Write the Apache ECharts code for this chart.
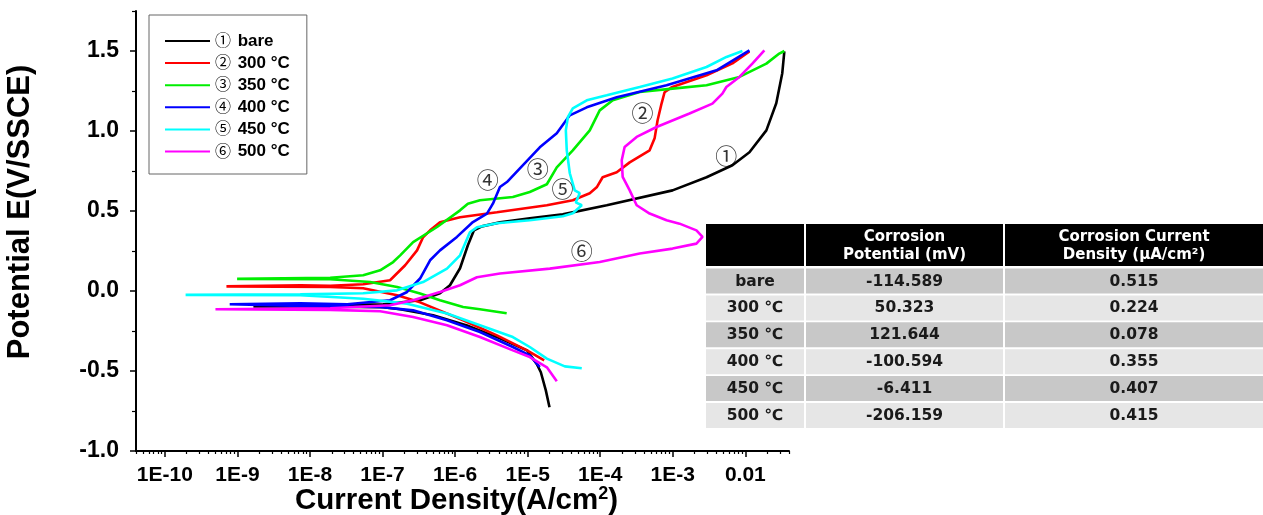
<!DOCTYPE html>
<html>
<head>
<meta charset="utf-8">
<script src="https://cdn.jsdelivr.net/npm/echarts@6/dist/echarts.min.js"></script>
<style>
html,body{margin:0;padding:0;background:#fff;}
#main{width:1263px;height:515px;}
</style>
</head>
<body>
<div id="main"></div>
<script>
// legend / series labels
var marks = ['①', '②', '③', '④', '⑤', '⑥'];
var names = ['bare', '300 °C', '350 °C', '400 °C', '450 °C', '500 °C'];
var colors = ['#000000', '#ff0000', '#00ee00', '#0000ff', '#00ffff', '#ff00ff'];

// [current density (A/cm2), potential (V)] : cathodic end -> Ecorr -> anodic end
var bare = [[2.0e-5,-0.727],[1.78e-5,-0.621],[1.52e-5,-0.508],[1.34e-5,-0.458],[9.8e-6,-0.371],[4.15e-6,-0.296],[1.46e-6,-0.215],[4.97e-7,-0.152],[1.75e-7,-0.114],[1.02e-7,-0.102],[1.38e-8,-0.096],[1.66e-9,-0.096],
  [1.66e-9,-0.093],[1.38e-8,-0.089],[1.02e-7,-0.083],[3.29e-7,-0.058],[6.19e-7,-0.014],[8.5e-7,0.036],[1.17e-6,0.142],[1.5e-6,0.286],[1.82e-6,0.379],[2.34e-6,0.404],[4.15e-6,0.429],[1.07e-5,0.454],[3.05e-5,0.479],[1.23e-4,0.536],[9.93e-4,0.629],[2.92e-3,0.711],[6.64e-3,0.786],[1.14e-2,0.867],[1.95e-2,1.004],[2.67e-2,1.173],[3.23e-2,1.361],[3.45e-2,1.498]];
var t300 = [[1.69e-5,-0.433],[9.8e-6,-0.371],[3.77e-6,-0.277],[1.29e-6,-0.183],[3.29e-7,-0.071],[1.59e-7,-0.027],[5.41e-8,0.017],[1.9e-8,0.026],[7.06e-10,0.029],
  [7.06e-10,0.033],[7.4e-9,0.036],[1.9e-8,0.033],[5.41e-8,0.042],[1.27e-7,0.067],[2.05e-7,0.161],[2.99e-7,0.254],[3.62e-7,0.336],[4.52e-7,0.379],[6.19e-7,0.429],[1.17e-6,0.461],[3.77e-6,0.492],[1.84e-5,0.536],[4.19e-5,0.567],[7.18e-5,0.611],[8.95e-5,0.648],[1.08e-4,0.711],[1.69e-4,0.742],[2.55e-4,0.804],[4.8e-4,0.879],[5.62e-4,0.954],[6.18e-4,1.067],[7.02e-4,1.173],[7.71e-4,1.242],[9.63e-4,1.273],[2.92e-3,1.348],[6.64e-3,1.423],[1.14e-2,1.498]];
var t350 = [[5.14e-6,-0.139],[2.2e-6,-0.114],[1.29e-6,-0.1],[6.19e-7,-0.058],[3.29e-7,-0.016],[1.59e-7,0.025],[6.75e-8,0.056],[1.9e-8,0.073],[9.9e-10,0.076],
  [9.9e-10,0.079],[1.9e-8,0.083],[5.41e-8,0.098],[9.27e-8,0.129],[1.4e-7,0.181],[1.75e-7,0.223],[2.64e-7,0.306],[5.64e-7,0.4],[1.17e-6,0.504],[1.5e-6,0.546],[2.2e-6,0.567],[6.25e-6,0.588],[1.07e-5,0.619],[1.84e-5,0.667],[2.52e-5,0.773],[4.19e-5,0.879],[7.18e-5,1.004],[9.84e-5,1.129],[1.49e-4,1.192],[3.5e-4,1.244],[9.93e-4,1.265],[2.92e-3,1.286],[8.3e-3,1.338],[1.95e-2,1.421],[2.94e-2,1.484],[3.45e-2,1.5]];
var t400 = [[1.47e-5,-0.475],[1.07e-5,-0.402],[6.25e-6,-0.35],[2.2e-6,-0.256],[7.73e-7,-0.183],[2.64e-7,-0.121],[9.27e-8,-0.1],[7.36e-9,-0.093],[7.83e-10,-0.083],
  [7.83e-10,-0.079],[7.36e-9,-0.077],[3.26e-8,-0.083],[1.27e-7,-0.058],[2.18e-7,-0.006],[3.29e-7,0.078],[4.52e-7,0.192],[6.19e-7,0.254],[1.06e-6,0.338],[1.76e-6,0.431],[2.75e-6,0.484],[3.32e-6,0.546],[4.15e-6,0.65],[5.18e-6,0.681],[7.82e-6,0.767],[1.47e-5,0.898],[2.52e-5,0.986],[3.81e-5,1.098],[6.53e-5,1.148],[1.69e-4,1.211],[8.22e-4,1.286],[4.01e-3,1.379],[1.14e-2,1.504]];
var t450 = [[5.57e-5,-0.483],[3.25e-5,-0.471],[1.84e-5,-0.423],[1.07e-5,-0.35],[6.25e-6,-0.288],[2.2e-6,-0.214],[7.73e-7,-0.141],[2.18e-7,-0.079],[5.41e-8,-0.048],[7.36e-9,-0.027],[1.93e-10,-0.024],
  [1.93e-10,-0.021],[7.36e-9,-0.021],[5.41e-8,-0.014],[1.59e-7,0.004],[3.62e-7,0.056],[7.73e-7,0.14],[1.17e-6,0.223],[1.6e-6,0.367],[2.0e-6,0.398],[3.77e-6,0.423],[1.07e-5,0.442],[3.05e-5,0.467],[4.19e-5,0.486],[5.57e-5,0.536],[4.6e-5,0.554],[5.22e-5,0.611],[4.46e-5,0.629],[3.81e-5,0.736],[3.46e-5,0.879],[3.36e-5,1.004],[3.58e-5,1.086],[4.19e-5,1.142],[6.53e-5,1.192],[1.23e-4,1.223],[3.5e-4,1.275],[9.93e-4,1.328],[2.92e-3,1.4],[5.5e-3,1.463],[9.12e-3,1.5]];
var t500 = [[2.52e-5,-0.564],[1.84e-5,-0.477],[1.07e-5,-0.413],[6.25e-6,-0.371],[2.2e-6,-0.288],[7.73e-7,-0.214],[2.64e-7,-0.163],[9.27e-8,-0.127],[1.9e-8,-0.118],[4.98e-10,-0.114],
  [4.98e-10,-0.111],[1.9e-8,-0.108],[1.27e-7,-0.089],[2.64e-7,-0.058],[6.19e-7,-0.006],[1.17e-6,0.036],[2.0e-6,0.086],[4.15e-6,0.109],[2.02e-5,0.14],[9.84e-5,0.181],[3.5e-4,0.234],[9.93e-4,0.265],[2.12e-3,0.296],[2.57e-3,0.338],[2.12e-3,0.379],[1.24e-3,0.421],[8.22e-4,0.442],[4.8e-4,0.484],[3.18e-4,0.536],[2.55e-4,0.629],[2.04e-4,0.713],[1.98e-4,0.817],[2.17e-4,0.9],[3.18e-4,0.963],[5.98e-4,1.025],[1.7e-3,1.109],[3.52e-3,1.171],[4.83e-3,1.234],[5.48e-3,1.275],[8.3e-3,1.338],[1.25e-2,1.421],[1.83e-2,1.504]];
var curves = [bare, t300, t350, t400, t450, t500];

// circled labels placed next to the curves
var noteText = ['①', '②', '③', '④', '⑤', '⑥'];
var notePos = [[5.48e-3, 0.848], [3.83e-4, 1.117], [1.38e-5, 0.767], [2.83e-6, 0.698], [3.03e-5, 0.642], [5.57e-5, 0.254]];

// axis ticks
var xMin = 4e-11, xMax = 0.04;
var xTickExp = [-10, -9, -8, -7, -6, -5, -4, -3, -2];
var xTickLabels = ['1E-10', '1E-9', '1E-8', '1E-7', '1E-6', '1E-5', '1E-4', '1E-3', '0.01'];
var yTicks = [-1.0, -0.5, 0.0, 0.5, 1.0, 1.5];
var yMinor = [-0.75, -0.25, 0.25, 0.75, 1.25, 1.75];

// table
var tableHead = ['', 'Corrosion\nPotential (mV)', 'Corrosion Current\nDensity (μA/cm²)'];
var tableRows = ['bare', '300 ℃', '350 ℃', '400 ℃', '450 ℃', '500 ℃'];
var tablePot = ['-114.589', '50.323', '121.644', '-100.594', '-6.411', '-206.159'];
var tableDen = ['0.515', '0.224', '0.078', '0.355', '0.407', '0.415'];

var xMinor = [];
for (var e = -11; e <= -2; e++) {
  for (var k = 2; k <= 9; k++) {
    var lv = e + Math.log10(k);
    if (lv > Math.log10(xMin) - 1e-6 && lv < Math.log10(xMax) + 1e-6) xMinor.push(lv);
  }
}

var myChart = echarts.init(document.getElementById('main'));

var series = [];
for (var i = 0; i < curves.length; i++) {
  series.push({
    name: marks[i] + ' ' + names[i],
    type: 'line',
    xAxisIndex: 0,
    yAxisIndex: 0,
    data: curves[i],
    symbol: 'none',
    showSymbol: false,
    color: colors[i],
    lineStyle: { width: 2.6, color: colors[i] },
    z: 2 + i
  });
}
series.push({
  name: 'notes',
  type: 'scatter',
  xAxisIndex: 0,
  yAxisIndex: 0,
  symbolSize: 0,
  silent: true,
  z: 20,
  data: notePos.map(function (p, j) { return { value: p, name: noteText[j] }; }),
  label: {
    show: true, position: 'inside', formatter: '{b}',
    fontSize: 22, color: '#000', fontFamily: 'Noto Sans CJK KR'
  }
});

// table as graphic elements
var colX = [706, 806, 1005, 1263];
var headTop = 224, headH = 42, rowTop = 268.5, rowH = 25, rowStep = 26.9;
var gfx = [];
for (var c = 0; c < 3; c++) {
  var w = colX[c + 1] - colX[c] - (c < 2 ? 2 : 0);
  gfx.push({ type: 'rect', shape: { x: colX[c], y: headTop, width: w, height: headH }, style: { fill: '#000' } });
  if (tableHead[c]) {
    gfx.push({ type: 'text', x: colX[c] + w / 2, y: headTop + headH / 2 + 1,
      style: { text: tableHead[c], fill: '#fff', fontSize: 15, fontWeight: 'bold', fontFamily: 'DejaVu Sans', lineHeight: 18, align: 'center', verticalAlign: 'middle' } });
  }
  for (var r = 0; r < tableRows.length; r++) {
    var cellText = c === 0 ? tableRows[r] : (c === 1 ? tablePot[r] : tableDen[r]);
    var ty = rowTop + r * rowStep;
    gfx.push({ type: 'rect', shape: { x: colX[c], y: ty, width: w, height: rowH }, style: { fill: r % 2 === 0 ? '#c8c8c8' : '#e6e6e6' } });
    gfx.push({ type: 'text', x: colX[c] + w / 2, y: ty + rowH / 2 + 0.5,
      style: { text: cellText, fill: '#1a1a1a', fontSize: 15.5, fontWeight: 'bold', fontFamily: 'DejaVu Sans', align: 'center', verticalAlign: 'middle' } });
  }
}
gfx.push({ type: 'text', x: 20, y: 212, rotation: Math.PI / 2,
  style: { text: 'Potential E(V/SSCE)', fill: '#000', fontSize: 31, fontWeight: 'bold', fontFamily: 'Liberation Sans', align: 'center', verticalAlign: 'middle' } });

option = {
  animation: false,
  backgroundColor: '#fff',
  grid: { left: 136, right: 474, top: 11, bottom: 64, outerBoundsMode: 'none', containLabel: false },
  legend: {
    data: series.slice(0, 6).map(function (s) { return s.name; }),
    orient: 'vertical',
    left: 149, top: 15,
    padding: [17, 17, 14, 16],
    itemGap: 4.6,
    itemWidth: 45, itemHeight: 2,
    icon: 'rect',
    borderColor: '#666', borderWidth: 1,
    formatter: function (n) {
      var sp = n.indexOf(' ');
      return '{n|' + n.substring(0, sp) + '}  {b|' + n.substring(sp + 1) + '}';
    },
    textStyle: {
      rich: {
        n: { fontSize: 16, fontFamily: 'Noto Sans CJK KR', color: '#000', lineHeight: 15, verticalAlign: 'top' },
        b: { fontSize: 17, fontWeight: 'bold', fontFamily: 'Liberation Sans', color: '#000', lineHeight: 18 }
      }
    }
  },
  xAxis: [
    {
      type: 'log', logBase: 10, min: xMin, max: xMax, position: 'bottom',
      axisLine: { show: true, onZero: false, lineStyle: { color: '#000', width: 2 } },
      axisTick: { show: false }, axisLabel: { show: false }, splitLine: { show: false }
    },
    {
      type: 'value', min: Math.log10(xMin), max: Math.log10(xMax), position: 'bottom',
      axisLine: { show: false, onZero: false },
      axisTick: { show: true, customValues: xTickExp, length: 6, lineStyle: { color: '#000', width: 1.5 } },
      axisLabel: {
        customValues: xTickExp, margin: 14, fontSize: 21, fontFamily: 'Liberation Sans', fontWeight: 'bold', color: '#000',
        formatter: function (v) { return xTickLabels[Math.round(v) + 10]; }
      },
      splitLine: { show: false },
      name: '{a|Current Density(A/cm}{s|2}{a|)}',
      nameLocation: 'middle', nameGap: 34, nameMoveOverlap: false,
      nameTextStyle: {
        padding: [0, 12, 0, 0],
        rich: {
          a: { fontSize: 29.5, fontWeight: 'bold', fontFamily: 'Liberation Sans', color: '#000', lineHeight: 31 },
          s: { fontSize: 18, fontWeight: 'bold', fontFamily: 'Liberation Sans', color: '#000', lineHeight: 18, verticalAlign: 'top' }
        }
      }
    },
    {
      type: 'value', min: Math.log10(xMin), max: Math.log10(xMax), position: 'bottom',
      axisLine: { show: false, onZero: false },
      axisTick: { show: true, customValues: xMinor, length: 3, lineStyle: { color: '#000', width: 1.2 } },
      axisLabel: { show: false }, splitLine: { show: false }
    }
  ],
  yAxis: [
    {
      type: 'value', min: -1, max: 1.75, position: 'left',
      axisLine: { show: true, onZero: false, lineStyle: { color: '#000', width: 2 } },
      axisTick: { show: true, customValues: yTicks, length: 6, lineStyle: { color: '#000', width: 1.5 } },
      axisLabel: {
        customValues: yTicks, margin: 17, fontSize: 23, fontFamily: 'Liberation Sans', fontWeight: 'bold', color: '#000',
        formatter: function (v) { return v.toFixed(1); }
      },
      splitLine: { show: false }
    },
    {
      type: 'value', min: -1, max: 1.75, position: 'left',
      axisLine: { show: false, onZero: false },
      axisTick: { show: true, customValues: yMinor, length: 4, lineStyle: { color: '#000', width: 1.2 } },
      axisLabel: { show: false }, splitLine: { show: false }
    }
  ],
  graphic: { elements: gfx },
  series: series
};

myChart.setOption(option);
</script>
</body>
</html>
